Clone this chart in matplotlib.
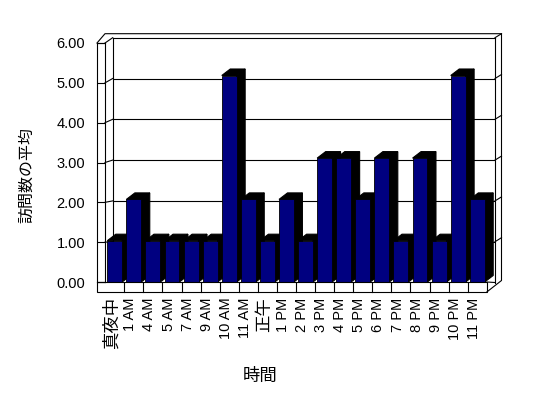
import matplotlib
matplotlib.use('Agg')
import matplotlib.pyplot as plt
from matplotlib.patches import Polygon, Rectangle
from matplotlib.lines import Line2D
import numpy as np

plt.rcParams['font.family'] = ['Liberation Sans', 'Noto Sans CJK JP', 'DejaVu Sans']

# ---------------- data ----------------
categories = ['真夜中', '1 AM', '4 AM', '5 AM', '7 AM', '9 AM', '10 AM', '11 AM', '正午',
              '1 PM', '2 PM', '3 PM', '4 PM', '5 PM', '6 PM', '7 PM', '8 PM', '9 PM',
              '10 PM', '11 PM']
values = [1, 2, 1, 1, 1, 1, 5, 2, 1, 2, 1, 3, 3, 2, 3, 1, 3, 1, 5, 2]
y_ticks = [0, 1, 2, 3, 4, 5, 6]
y_tick_labels = ['0.00', '1.00', '2.00', '3.00', '4.00', '5.00', '6.00']
x_title = '時間'
y_title = '訪問数の平均'

# ---------------- layout ----------------
W, H, DPI = 548, 398, 100
fig = plt.figure(figsize=(W / DPI, H / DPI), dpi=DPI)
fig.patch.set_facecolor('white')


def rect(x0, ytop, x1, ybot):
    return [x0 / W, 1 - ybot / H, (x1 - x0) / W, (ybot - ytop) / H]


LW = 0.8
NAVY = '#000080'
DX, DY = 8.5, 6.5          # pseudo-3D depth offset in pixels (right, up)
FLOOR_T = 10               # floor slab thickness in px

ax_back = fig.add_axes(rect(112.7, 37.7, 495, 282.5))
ax = fig.add_axes(rect(105.2, 282 - 6 * 41.3, 486.8, 282))
ax_front = fig.add_axes(rect(97, 43, 105, 282))

ax_back.set_zorder(0)
ax.set_zorder(2)
ax_front.set_zorder(3)

# back wall
ax_back.set_xlim(0, 1)
ax_back.set_ylim(0, 6)
ax_back.set_xticks([])
ax_back.set_yticks([])
ax_back.spines['bottom'].set_visible(False)
for s in ['left', 'right', 'top']:
    ax_back.spines[s].set_linewidth(LW)
for v in y_ticks[1:-1]:
    ax_back.axhline(v, color='black', lw=LW)

# bars axes
idx = np.arange(len(categories))
ax.set_xlim(-0.5, len(categories) - 0.5)
ax.set_ylim(0, 6)
ax.patch.set_visible(False)
for s in ax.spines.values():
    s.set_visible(False)
ax.set_yticks([])
ax.set_xticks(idx - 0.18)
ax.set_xticklabels(categories, rotation=90, fontsize=10.5, va='top', ha='center')
for lab in ax.get_xticklabels():
    if any(ord(c) > 0x3000 for c in lab.get_text()):
        lab.set_fontsize(12.5)
ax.tick_params(axis='x', length=0, pad=11)

# front left axis (left wall front face)
ax_front.set_xlim(0, 1)
ax_front.set_ylim(0, 6)
ax_front.set_xticks([])
ax_front.set_yticks(y_ticks)
ax_front.set_yticklabels(y_tick_labels, fontsize=10.5)
ax_front.tick_params(axis='y', direction='in', length=8 * 72 / DPI, width=LW, pad=8.5)
for s in ax_front.spines.values():
    s.set_linewidth(LW)
ax_front.patch.set_visible(False)

inv = fig.transFigure.inverted()


def P(trans, x, y, dx=0.0, dy=0.0):
    d = trans.transform((x, y)) + np.array([dx, dy])
    return inv.transform(d)


def add_poly(pts, fc, ec='black', z=2, lw=LW):
    ax.add_patch(Polygon(pts, closed=True, facecolor=fc, edgecolor=ec, lw=lw,
                         transform=fig.transFigure, clip_on=False, zorder=z))


def add_line(pts, z=5):
    pts = np.array(pts)
    fig.add_artist(Line2D(pts[:, 0], pts[:, 1], color='black', lw=LW,
                          transform=fig.transFigure, zorder=z))


# bars: top + side faces (black), front faces (navy)
BW = 0.78
td = ax.transData
for i, v in zip(idx, values):
    x0, x1 = i - BW / 2, i + BW / 2
    top = [P(td, x0, v), P(td, x0, v, DX, DY), P(td, x1, v, DX, DY), P(td, x1, v)]
    side = [P(td, x1, 0), P(td, x1, v), P(td, x1, v, DX, DY), P(td, x1, 0, DX, DY)]
    add_poly(side, 'black', z=2)
    add_poly(top, 'black', z=2)
ax.bar(idx, values, width=BW, color=NAVY, edgecolor='black', linewidth=0.6, zorder=3)

# floor front face
fl = P(ax_front.transAxes, 0, 0)
fr = P(ax.transAxes, 1, 0)
fb = P(ax_front.transAxes, 0, 0, 0, -FLOOR_T)
floor = Rectangle((fl[0], fb[1]), fr[0] - fl[0], fl[1] - fb[1], facecolor='white',
                  edgecolor='black', lw=LW, transform=fig.transFigure, zorder=4)
ax.add_patch(floor)
floor.set_clip_on(False)
for k in range(1, len(categories)):
    add_line([P(td, k - 0.5, 0), P(td, k - 0.5, 0, 0, -FLOOR_T)])

# left wall top / outer frame
ta = ax_back.transAxes
outer = [P(ax_front.transAxes, 0, 1),
         P(ta, 0, 1, -7.7, 4),
         P(ta, 1, 1, 6.5, 4),
         P(ta, 1, 0, 6.5, 2),
         P(ax.transAxes, 1, 0, 0, -FLOOR_T)]
add_line(outer)
add_line([P(ax.transAxes, 1, 0), P(ta, 1, 0)])

# connectors between front-wall ticks and back-wall gridlines, right-edge ticks
fy = ax_front.get_yaxis_transform()
by = ax_back.get_yaxis_transform()
for v in y_ticks[1:]:
    add_line([P(fy, 1, v), P(by, 0, v)], z=1)
    add_line([P(by, 1, v), P(by, 1, v, 6.5, 4)])

# titles
fig.text(260 / W, 1 - 376 / H, x_title, fontsize=12.5, ha='center', va='center')
fig.text(27 / W, 1 - 175 / H, y_title, fontsize=11.5, ha='center', va='center',
         rotation=90)

fig.savefig('out.png', dpi=DPI, facecolor='white')
